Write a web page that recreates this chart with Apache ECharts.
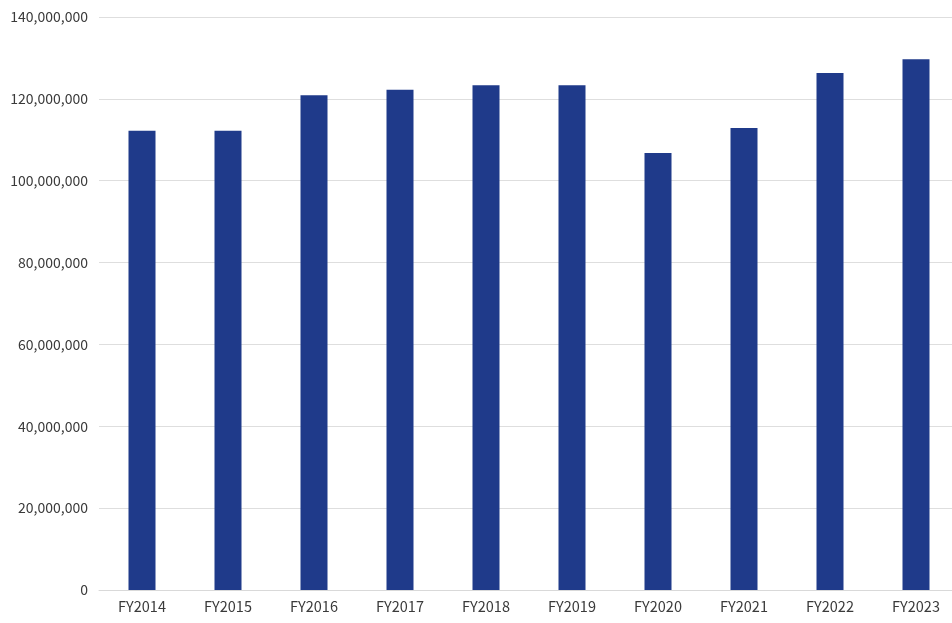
<!DOCTYPE html>
<html>
<head>
<meta charset="utf-8">
<script src="https://cdn.jsdelivr.net/npm/echarts@6/dist/echarts.min.js"></script>
<style>
  html, body { margin: 0; padding: 0; background: #fff; }
  #chart { width: 952px; height: 623px; }
</style>
</head>
<body>
<div id="chart"></div>
<script>
// 연도별 값
const years = ["FY2014", "FY2015", "FY2016", "FY2017", "FY2018", "FY2019", "FY2020", "FY2021", "FY2022", "FY2023"];
const values = [112200000, 112200000, 120900000, 122200000, 123300000, 123300000, 106800000, 112900000, 126300000, 129700000];

const chart = echarts.init(document.getElementById("chart"));
const fontFamily = "'Noto Sans CJK KR', 'Noto Sans', sans-serif";

chart.setOption({
  animation: false,
  backgroundColor: "#fff",
  // 오른쪽은 화면 밖으로 살짝 넘어감
  grid: { left: 99, width: 860, top: 17, height: 573, outerBoundsMode: "none" },
  xAxis: {
    type: "category",
    data: years,
    axisLine: { lineStyle: { color: "#d9d9d9" } },
    axisTick: { show: false },
    axisLabel: { color: "#3a3a3a", fontSize: 14.5, fontFamily, margin: 9 }
  },
  yAxis: {
    type: "value",
    min: 0,
    max: 140000000,
    interval: 20000000,
    axisLine: { show: false },
    axisTick: { show: false },
    splitLine: { lineStyle: { color: "#dedede" } },
    axisLabel: {
      color: "#3a3a3a", fontSize: 14, fontFamily, margin: 11,
      formatter: (v) => v.toLocaleString("en-US")
    }
  },
  series: [{
    type: "bar",
    data: values,
    barWidth: 27,
    itemStyle: { color: "#1f3a8a" }
  }]
});
</script>
</body>
</html>
